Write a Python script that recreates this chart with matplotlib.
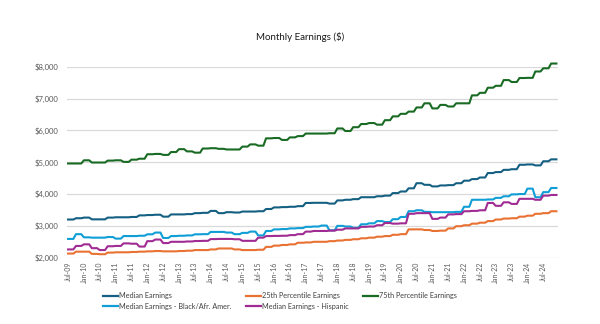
import numpy as np
import matplotlib
matplotlib.use("Agg")
import matplotlib.pyplot as plt

plt.rcParams['font.family'] = ['Lato', 'DejaVu Sans']

# Quarterly readings, Q3-2009 .. Q4-2024 (each quarter spans 3 monthly points)
median = [3200, 3240, 3260, 3205, 3205, 3260, 3270, 3270, 3280, 3330,
          3340, 3350, 3290, 3360, 3360, 3370, 3400, 3410, 3470, 3400,
          3430, 3420, 3450, 3450, 3460, 3530, 3580, 3590, 3600, 3620,
          3720, 3725, 3725, 3700, 3800, 3820, 3840, 3900, 3900, 3930,
          3950, 4030, 4080, 4180, 4340, 4290, 4240, 4270, 4280, 4340,
          4420, 4470, 4520, 4660, 4690, 4760, 4780, 4920, 4930, 4900,
          5030, 5090]
p25 = [2130, 2190, 2190, 2120, 2110, 2160, 2170, 2170, 2180, 2190,
       2200, 2210, 2200, 2200, 2210, 2220, 2240, 2240, 2260, 2290,
       2290, 2260, 2240, 2240, 2250, 2340, 2380, 2400, 2420, 2470,
       2480, 2500, 2500, 2520, 2540, 2560, 2580, 2610, 2630, 2660,
       2680, 2720, 2740, 2890, 2890, 2870, 2840, 2850, 2920, 2990,
       3020, 3070, 3100, 3150, 3200, 3230, 3240, 3290, 3320, 3380,
       3400, 3460]
p75 = [4960, 4960, 5060, 4990, 4990, 5050, 5060, 5010, 5080, 5110,
       5250, 5260, 5230, 5320, 5410, 5340, 5300, 5430, 5440, 5420,
       5400, 5400, 5490, 5560, 5520, 5750, 5760, 5700, 5780, 5820,
       5900, 5900, 5900, 5910, 6060, 5980, 6100, 6200, 6230, 6180,
       6320, 6440, 6520, 6590, 6720, 6850, 6690, 6800, 6750, 6850,
       6850, 7100, 7180, 7340, 7400, 7580, 7520, 7645, 7650, 7850,
       7950, 8100]
black = [2590, 2740, 2640, 2630, 2630, 2650, 2600, 2680, 2680, 2690,
         2735, 2790, 2620, 2680, 2690, 2700, 2735, 2740, 2810, 2810,
         2790, 2740, 2780, 2820, 2700, 2840, 2890, 2900, 2920, 2930,
         2970, 2980, 3010, 2860, 3000, 2980, 2940, 3050, 3080, 3150,
         3120, 3210, 3280, 3460, 3490, 3440, 3430, 3430, 3430, 3440,
         3600, 3820, 3820, 3830, 3880, 3930, 3990, 4000, 4170, 3900,
         4060, 4190]
hispanic = [2260, 2370, 2420, 2300, 2240, 2360, 2370, 2450, 2440, 2350,
            2520, 2570, 2460, 2500, 2500, 2510, 2525, 2530, 2585, 2590,
            2590, 2580, 2530, 2530, 2630, 2680, 2685, 2690, 2710, 2740,
            2820, 2840, 2840, 2850, 2880, 2920, 2920, 2970, 2980, 3020,
            3090, 3070, 3080, 3380, 3400, 3400, 3220, 3260, 3360, 3370,
            3460, 3470, 3490, 3720, 3630, 3740, 3690, 3850, 3850, 3820,
            3950, 3970]

series_names = ["Median Earnings", "25th Percentile Earnings", "75th Percentile Earnings",
                "Median Earnings - Black/Afr. Amer.", "Median Earnings - Hispanic"]
colors = ["#156082", "#E97132", "#196B24", "#0F9ED5", "#A02B93"]

# Tick labels every six months, Jul-09 .. Jul-24
tick_labels = []
for yr in range(2009, 2025):
    for mon in ("Jan", "Jul"):
        if yr == 2009 and mon == "Jan":
            continue
        tick_labels.append(f"{mon}-{yr % 100:02d}")

fig = plt.figure(figsize=(6.0, 3.24), dpi=100)
ax = fig.add_axes([0.1117, 0.2046, 0.8183, 0.5895])

n_months = len(median) * 3
x = np.arange(n_months)
handles = []
for vals, name, c in zip([median, p25, p75, black, hispanic], series_names, colors):
    h, = ax.plot(x, np.repeat(vals, 3), color=c, lw=1.5, label=name,
                 solid_joinstyle='round', clip_on=False)
    handles.append(h)

ax.set_ylim(2000, 8000)
ax.set_yticks(np.arange(2000, 8001, 1000))
ax.set_yticklabels([f"${v:,.0f}" for v in np.arange(2000, 8001, 1000)])
ax.set_xlim(-0.4, n_months - 0.4)
ax.set_xticks(np.arange(0, n_months, 6))
ax.set_xticklabels(tick_labels, rotation=90)

ax.grid(axis='y', color='#D9D9D9', lw=0.9)
ax.set_axisbelow(True)
for s in ax.spines.values():
    s.set_visible(False)
ax.tick_params(axis='y', length=0, labelsize=5.5, labelcolor='#595959', pad=6)
ax.tick_params(axis='x', length=0, labelsize=5, labelcolor='#595959', pad=3)

fig.text(0.5, 0.885, "Monthly Earnings ($)", ha='center', va='center', fontsize=7, color='#1a1a1a')

order = [0, 3, 1, 4, 2]
leg = fig.legend([handles[i] for i in order], [series_names[i] for i in order],
                 loc='upper left', bbox_to_anchor=(0.172, 0.098), ncol=3, frameon=False,
                 fontsize=5.2, handlelength=2.1, handletextpad=0.1, columnspacing=2.0,
                 labelspacing=0.5, borderaxespad=0, borderpad=0)
for t in leg.get_texts():
    t.set_color('#404040')
for l in leg.get_lines():
    l.set_linewidth(1.6)

fig.savefig("out.png", dpi=100)
